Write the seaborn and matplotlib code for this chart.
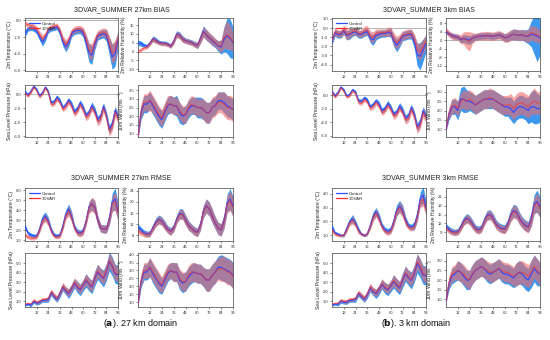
import matplotlib
matplotlib.use("Agg")
import numpy as np
import pandas as pd
import matplotlib.pyplot as plt
from matplotlib.lines import Line2D
import seaborn as sns

HOURS = [0, 3, 6, 9, 12, 15, 18, 21, 24, 27, 30, 33, 36, 39, 42, 45, 48, 51, 54, 57, 60, 63, 66, 69, 72, 75, 78, 81, 84, 87, 90, 93, 96]
XTICKS = [12, 24, 36, 48, 60, 72, 84, 96]
SERIES = ["Control", "3DVAR"]
TITLES = ["3DVAR_SUMMER 27km BIAS", "3DVAR_SUMMER 27km RMSE", "3DVAR_SUMMER 3km BIAS", "3DVAR_SUMMER 3km RMSE"]
CAPTIONS = [r"($\mathbf{a}$). 27 km domain", r"($\mathbf{b}$). 3 km domain"]
YLABELS = ["2m Temperature (\u00b0C)", "2m Relative Humidity (%)", "Sea Level Pressure (hPa)", "10m Wind (ms$^{-1}$)"]

# ---------- 27 km BIAS ----------
a_bias_t2_ctl = [-1.6,-1.0,-0.9,-1.0,-1.3,-2.0,-2.6,-2.1,-1.2,-1.0,-0.9,-0.8,-1.4,-2.6,-3.2,-2.7,-1.6,-1.3,-1.2,-1.2,-1.5,-2.6,-3.9,-4.2,-2.9,-1.9,-1.7,-1.6,-1.8,-3.1,-4.4,-4.0,-2.4]
a_bias_t2_var = [-0.4,-0.5,-0.6,-0.7,-1.0,-1.7,-2.2,-1.8,-1.0,-0.8,-0.7,-0.6,-1.2,-2.3,-2.9,-2.4,-1.4,-1.1,-1.0,-1.0,-1.3,-2.3,-3.6,-3.8,-2.6,-1.7,-1.5,-1.4,-1.6,-2.8,-4.0,-3.6,-2.1]
a_bias_t2_ctl_sd = [0.4,0.3,0.3,0.3,0.3,0.4,0.5,0.4,0.3,0.3,0.3,0.3,0.4,0.5,0.6,0.5,0.4,0.4,0.4,0.4,0.5,0.8,1.1,1.1,0.7,0.5,0.5,0.5,0.7,1.1,1.5,1.5,1.0]
a_bias_t2_var_sd = [0.3,0.3,0.3,0.3,0.3,0.4,0.5,0.4,0.3,0.3,0.3,0.3,0.4,0.5,0.6,0.5,0.4,0.4,0.4,0.4,0.5,0.7,0.9,1.0,0.7,0.5,0.5,0.5,0.6,0.9,1.2,1.2,0.9]

a_bias_rh_ctl = [5.0,4.5,3.5,3.0,4.8,7.3,6.5,5.3,4.8,4.8,4.2,3.2,5.8,10.0,9.3,7.2,6.2,5.7,5.2,4.2,3.5,7.2,11.5,9.5,7.8,6.2,4.7,3.2,2.5,7.0,9.0,7.5,5.0]
a_bias_rh_var = [0.0,1.0,2.0,2.5,4.5,7.0,6.0,5.0,4.5,4.5,4.0,3.0,5.5,9.5,9.0,7.0,6.0,5.5,5.0,4.0,3.5,7.0,11.0,9.5,8.0,6.5,5.0,3.5,3.0,8.0,9.5,8.0,5.5]
a_bias_rh_ctl_sd = [1.5,1.5,1.2,1.0,1.2,1.5,1.5,1.2,1.2,1.2,1.2,1.2,1.5,1.8,1.8,1.8,1.5,1.5,1.5,1.5,1.8,2.5,3.0,3.0,2.8,2.8,2.5,3.0,4.0,7.0,10.0,11.0,9.0]
a_bias_rh_var_sd = [1.0,1.0,1.0,1.0,1.2,1.5,1.5,1.2,1.2,1.2,1.2,1.2,1.5,1.8,1.8,1.8,1.5,1.5,1.5,1.5,1.8,2.5,3.0,3.0,2.8,2.8,2.5,2.5,3.5,6.0,8.0,7.0,5.0]

a_bias_slp_ctl = [0.4,-0.1,0.4,1.1,0.7,-0.2,0.2,1.0,0.4,-1.2,-1.1,-0.4,-0.9,-1.9,-1.5,-0.8,-1.4,-2.5,-2.1,-1.2,-1.9,-3.0,-2.6,-1.6,-2.3,-3.6,-3.2,-1.7,-3.0,-5.0,-4.3,-2.3,-3.2]
a_bias_slp_var = [0.2,-0.3,0.2,1.0,0.5,-0.4,0.0,0.9,0.2,-1.5,-1.4,-0.7,-1.2,-2.2,-1.8,-1.1,-1.7,-2.8,-2.4,-1.5,-2.2,-3.3,-2.9,-1.9,-2.6,-3.9,-3.5,-2.0,-3.3,-5.3,-4.6,-2.6,-3.5]
a_bias_slp_ctl_sd = [0.2,0.2,0.2,0.2,0.2,0.2,0.2,0.2,0.2,0.3,0.3,0.3,0.3,0.3,0.3,0.3,0.4,0.4,0.4,0.4,0.4,0.4,0.4,0.5,0.5,0.5,0.5,0.5,0.5,0.6,0.6,0.6,0.6]
a_bias_slp_var_sd = [0.2,0.2,0.2,0.2,0.2,0.2,0.2,0.2,0.3,0.3,0.3,0.3,0.3,0.3,0.4,0.4,0.4,0.4,0.4,0.4,0.5,0.5,0.5,0.5,0.5,0.6,0.6,0.6,0.6,0.7,0.7,0.7,0.7]

a_bias_wind_ctl = [0.8,2.2,2.7,2.7,2.9,2.6,2.3,2.0,1.8,2.2,2.6,2.7,2.6,2.6,2.2,2.0,2.1,2.4,2.6,2.6,2.5,2.5,2.4,2.2,2.2,2.5,2.6,2.9,2.9,2.8,2.6,2.5,2.4]
a_bias_wind_var = [0.8,2.3,2.8,2.8,2.9,2.7,2.4,2.1,1.9,2.3,2.7,2.7,2.6,2.6,2.3,2.1,2.1,2.5,2.7,2.6,2.5,2.5,2.4,2.2,2.2,2.5,2.6,2.8,2.8,2.7,2.5,2.5,2.4]
a_bias_wind_ctl_sd = [0.1,0.4,0.5,0.5,0.5,0.5,0.5,0.5,0.5,0.5,0.5,0.5,0.5,0.6,0.6,0.5,0.5,0.5,0.5,0.5,0.6,0.6,0.6,0.6,0.6,0.5,0.5,0.5,0.5,0.6,0.6,0.6,0.6]
a_bias_wind_var_sd = [0.1,0.4,0.5,0.5,0.6,0.5,0.5,0.5,0.5,0.5,0.5,0.5,0.5,0.5,0.5,0.5,0.5,0.5,0.5,0.5,0.5,0.5,0.6,0.6,0.6,0.6,0.6,0.6,0.6,0.7,0.7,0.7,0.7]

# ---------- 27 km RMSE ----------
a_rmse_t2_ctl = [2.4,1.7,1.5,1.4,1.4,2.1,3.1,3.4,2.9,2.0,1.5,1.4,1.5,2.4,3.6,4.1,3.4,2.3,1.8,1.7,1.9,2.9,4.3,4.6,4.3,3.0,2.2,2.1,2.1,3.1,4.8,5.1,3.9]
a_rmse_t2_var = [1.5,1.3,1.2,1.2,1.3,2.0,2.9,3.2,2.8,1.9,1.4,1.3,1.4,2.2,3.4,3.9,3.3,2.2,1.7,1.6,1.8,2.8,4.2,4.6,4.3,3.0,2.2,2.1,2.1,3.0,4.6,4.9,3.7]
a_rmse_t2_ctl_sd = [0.2,0.2,0.2,0.2,0.2,0.3,0.4,0.4,0.4,0.3,0.2,0.2,0.2,0.3,0.4,0.5,0.5,0.3,0.3,0.3,0.3,0.4,0.5,0.6,0.6,0.5,0.4,0.4,0.4,0.6,0.9,1.1,0.9]
a_rmse_t2_var_sd = [0.2,0.2,0.2,0.2,0.2,0.3,0.4,0.4,0.4,0.3,0.2,0.2,0.2,0.3,0.4,0.5,0.5,0.3,0.3,0.3,0.3,0.4,0.6,0.7,0.7,0.5,0.4,0.4,0.4,0.5,0.8,0.9,0.8]

a_rmse_rh_ctl = [11.0,10.0,9.0,8.5,8.7,10.8,12.8,13.8,13.2,11.7,10.2,9.5,10.7,13.8,15.8,15.7,13.6,11.6,10.6,9.6,9.1,11.6,16.6,18.6,17.5,15.0,12.5,10.5,10.0,13.2,19.5,21.0,18.5]
a_rmse_rh_var = [9.5,9.0,8.5,8.3,8.5,10.5,12.5,13.5,13.0,11.5,10.0,9.3,10.5,13.5,15.5,15.5,13.5,11.5,10.5,9.5,9.0,11.5,16.5,18.5,17.5,15.0,12.5,10.5,10.0,13.0,19.0,20.5,18.0]
a_rmse_rh_ctl_sd = [1.2,1.0,1.0,1.0,1.0,1.2,1.5,1.5,1.5,1.5,1.3,1.3,1.3,1.5,1.8,1.8,1.8,1.7,1.5,1.5,1.5,1.8,2.2,2.5,2.5,2.5,2.2,2.2,2.2,2.5,3.2,3.8,3.5]
a_rmse_rh_var_sd = [1.0,1.0,1.0,1.0,1.0,1.2,1.5,1.5,1.5,1.5,1.3,1.3,1.3,1.5,1.8,1.8,1.8,1.7,1.5,1.5,1.5,1.8,2.2,2.5,2.5,2.5,2.2,2.2,2.2,2.5,3.0,3.5,3.5]

a_rmse_slp_ctl = [0.6,0.7,0.6,1.0,0.8,0.9,1.1,1.1,1.2,1.9,1.5,1.2,1.8,2.5,2.1,1.8,2.3,2.9,2.5,2.2,2.7,3.2,2.8,2.5,3.4,4.1,3.7,3.4,4.1,5.2,4.7,3.9,3.8]
a_rmse_slp_var = [0.7,0.8,0.7,1.1,0.9,1.0,1.2,1.2,1.3,2.0,1.6,1.3,1.9,2.6,2.2,1.9,2.4,3.0,2.6,2.3,2.8,3.3,2.9,2.6,3.5,4.2,3.8,3.5,4.2,5.3,4.8,4.0,3.9]
a_rmse_slp_ctl_sd = [0.1,0.1,0.2,0.2,0.2,0.2,0.2,0.2,0.3,0.3,0.3,0.3,0.4,0.4,0.4,0.5,0.5,0.5,0.6,0.6,0.6,0.7,0.7,0.7,0.8,0.8,0.8,0.9,0.9,1.0,1.0,1.0,1.0]
a_rmse_slp_var_sd = [0.1,0.1,0.1,0.2,0.2,0.2,0.2,0.2,0.2,0.3,0.3,0.3,0.3,0.4,0.4,0.4,0.4,0.5,0.5,0.5,0.5,0.6,0.6,0.6,0.6,0.7,0.7,0.7,0.7,0.8,0.8,0.8,0.8]

a_rmse_wind_ctl = [0.9,2.3,2.9,2.9,3.2,2.8,2.5,2.2,2.0,2.4,2.8,3.0,2.9,2.9,2.4,2.2,2.3,2.6,2.8,2.9,2.8,2.8,2.6,2.4,2.4,2.7,2.9,3.2,3.2,3.1,3.0,2.9,2.7]
a_rmse_wind_var = [0.9,2.4,3.0,3.0,3.2,2.9,2.6,2.3,2.1,2.5,2.9,3.0,2.9,2.9,2.5,2.3,2.3,2.7,2.9,2.9,2.8,2.8,2.6,2.4,2.4,2.7,2.9,3.1,3.1,3.1,2.9,2.9,2.6]
a_rmse_wind_ctl_sd = [0.1,0.4,0.5,0.5,0.6,0.6,0.6,0.6,0.5,0.5,0.5,0.5,0.6,0.6,0.6,0.6,0.6,0.6,0.6,0.6,0.6,0.6,0.6,0.7,0.7,0.7,0.7,0.7,0.8,0.8,0.8,0.8,0.8]
a_rmse_wind_var_sd = [0.1,0.4,0.5,0.5,0.6,0.6,0.6,0.6,0.5,0.5,0.5,0.5,0.6,0.6,0.6,0.6,0.6,0.6,0.6,0.6,0.6,0.6,0.6,0.7,0.7,0.7,0.7,0.7,0.8,0.8,0.8,0.8,0.8]

# ---------- 3 km BIAS ----------
b_bias_t2_ctl = [-1.5,-0.5,-0.7,-0.7,-0.3,-0.8,-0.7,-0.5,-0.4,-0.7,-0.7,-0.5,-0.4,-1.1,-1.3,-0.8,-0.7,-0.6,-0.6,-0.5,-0.5,-1.4,-1.9,-1.5,-0.9,-0.8,-0.7,-0.7,-1.5,-2.9,-3.1,-2.4,-1.7]
b_bias_t2_var = [-1.3,-0.4,-0.6,-0.6,-0.2,-0.7,-0.6,-0.4,-0.3,-0.6,-0.6,-0.3,-0.2,-0.9,-1.0,-0.6,-0.5,-0.5,-0.5,-0.4,-0.4,-1.2,-1.6,-1.3,-0.8,-0.7,-0.6,-0.6,-1.2,-2.4,-2.6,-2.0,-1.4]
b_bias_t2_ctl_sd = [0.3,0.4,0.4,0.4,0.4,0.5,0.5,0.4,0.4,0.4,0.4,0.4,0.4,0.5,0.6,0.5,0.4,0.4,0.4,0.4,0.5,0.6,0.7,0.6,0.5,0.5,0.5,0.5,0.7,1.2,1.5,1.2,0.9]
b_bias_t2_var_sd = [0.3,0.4,0.4,0.4,0.5,0.6,0.5,0.4,0.4,0.4,0.4,0.5,0.5,0.6,0.6,0.5,0.4,0.4,0.4,0.5,0.5,0.7,0.7,0.6,0.5,0.5,0.5,0.5,0.6,0.8,0.9,0.8,0.7]

b_bias_rh_ctl = [4.0,3.0,2.2,1.8,1.5,0.3,0.8,0.5,0.0,1.0,1.5,1.8,2.0,2.0,2.2,2.0,1.8,2.2,2.5,2.0,1.2,1.5,2.3,2.8,2.5,2.3,2.5,2.0,1.8,3.0,2.5,2.0,1.0]
b_bias_rh_var = [4.5,3.0,2.0,1.5,1.5,0.5,1.0,0.0,-0.5,1.0,1.5,1.8,2.0,2.0,2.2,2.0,1.8,2.2,2.5,2.0,1.0,1.5,2.3,2.8,2.5,2.3,2.5,2.0,2.0,3.5,3.0,2.5,1.5]
b_bias_rh_ctl_sd = [1.0,1.0,1.2,1.2,1.2,1.5,1.8,2.0,2.0,1.8,1.5,1.5,1.5,1.5,1.5,1.5,1.5,1.5,1.5,1.5,1.8,2.0,2.2,2.5,2.5,2.5,2.5,2.8,3.5,6.0,9.0,12.0,8.0]
b_bias_rh_var_sd = [1.5,1.5,1.5,1.5,1.5,2.0,3.0,4.0,4.5,2.5,1.8,1.8,2.0,2.0,2.0,2.0,2.0,2.0,2.0,2.0,2.0,2.5,2.5,2.5,2.5,2.5,2.5,2.5,3.0,3.5,3.5,3.5,3.0]

b_bias_slp_ctl = [0.6,-0.1,0.4,1.2,0.8,-0.1,0.1,0.8,0.5,-0.8,-0.9,-0.4,-0.7,-1.7,-1.4,-0.8,-1.3,-2.3,-2.0,-1.2,-1.8,-2.8,-2.5,-1.6,-2.2,-3.4,-3.1,-1.8,-2.8,-4.7,-4.1,-2.3,-3.1]
b_bias_slp_var = [0.5,-0.3,0.2,1.1,0.6,-0.3,-0.1,0.6,0.3,-1.1,-1.2,-0.7,-1.0,-2.0,-1.7,-1.1,-1.6,-2.6,-2.3,-1.5,-2.1,-3.1,-2.8,-1.9,-2.5,-3.7,-3.4,-2.1,-3.1,-5.0,-4.4,-2.6,-3.4]
b_bias_slp_ctl_sd = [0.2,0.2,0.2,0.2,0.2,0.2,0.2,0.2,0.2,0.3,0.3,0.3,0.3,0.3,0.3,0.3,0.4,0.4,0.4,0.4,0.4,0.4,0.4,0.5,0.5,0.5,0.5,0.5,0.5,0.6,0.6,0.6,0.6]
b_bias_slp_var_sd = [0.2,0.2,0.2,0.2,0.2,0.2,0.2,0.2,0.3,0.3,0.3,0.3,0.3,0.3,0.4,0.4,0.4,0.4,0.4,0.4,0.5,0.5,0.5,0.5,0.5,0.6,0.6,0.6,0.6,0.7,0.7,0.7,0.7]

b_bias_wind_ctl = [1.0,1.8,2.2,2.2,2.0,2.6,2.6,2.5,2.5,2.4,2.3,2.4,2.5,2.6,2.6,2.6,2.6,2.5,2.4,2.3,2.2,2.2,2.1,1.9,2.1,2.2,2.2,2.1,2.0,2.2,2.2,2.1,2.1]
b_bias_wind_var = [1.0,1.9,2.2,2.3,2.1,2.5,2.6,2.5,2.6,2.5,2.3,2.4,2.5,2.6,2.6,2.7,2.6,2.5,2.4,2.3,2.3,2.3,2.3,2.1,2.3,2.4,2.4,2.3,2.2,2.4,2.5,2.4,2.4]
b_bias_wind_ctl_sd = [0.1,0.3,0.4,0.4,0.5,0.6,0.7,0.6,0.5,0.5,0.5,0.5,0.5,0.5,0.5,0.5,0.5,0.5,0.5,0.5,0.5,0.5,0.6,0.6,0.6,0.6,0.6,0.6,0.7,0.8,0.9,0.8,0.7]
b_bias_wind_var_sd = [0.1,0.3,0.4,0.4,0.4,0.4,0.5,0.5,0.5,0.5,0.5,0.5,0.5,0.5,0.5,0.5,0.5,0.5,0.5,0.5,0.5,0.5,0.6,0.6,0.6,0.6,0.6,0.6,0.6,0.6,0.7,0.6,0.6]

# ---------- 3 km RMSE ----------
b_rmse_t2_ctl = [1.6,1.2,1.1,1.0,1.0,1.5,2.0,2.2,1.9,1.4,1.1,1.0,1.1,1.7,2.4,2.7,2.3,1.7,1.4,1.3,1.4,2.0,2.8,3.1,2.8,2.1,1.7,1.6,1.7,2.4,3.6,3.9,3.0]
b_rmse_t2_var = [1.4,1.1,1.0,1.0,1.0,1.4,1.9,2.1,1.8,1.3,1.1,1.0,1.1,1.6,2.3,2.6,2.2,1.6,1.3,1.2,1.3,1.9,2.7,3.0,2.7,2.0,1.6,1.5,1.6,2.3,3.4,3.6,2.8]
b_rmse_t2_ctl_sd = [0.2,0.1,0.1,0.1,0.1,0.2,0.2,0.3,0.2,0.2,0.1,0.1,0.1,0.2,0.3,0.3,0.3,0.2,0.2,0.2,0.2,0.3,0.4,0.4,0.4,0.3,0.2,0.2,0.3,0.4,0.5,0.6,0.5]
b_rmse_t2_var_sd = [0.2,0.1,0.1,0.1,0.1,0.2,0.2,0.3,0.2,0.2,0.1,0.1,0.1,0.2,0.3,0.3,0.3,0.2,0.2,0.2,0.2,0.3,0.3,0.4,0.4,0.3,0.2,0.2,0.2,0.3,0.4,0.5,0.4]

b_rmse_rh_ctl = [11.0,10.0,9.3,9.0,9.2,10.8,12.8,13.8,13.2,11.8,10.3,9.8,10.3,12.8,14.8,15.0,13.8,11.8,10.8,10.3,10.1,11.8,14.8,16.3,15.8,13.8,12.3,11.3,10.8,13.5,18.5,19.5,17.5]
b_rmse_rh_var = [10.5,9.5,9.0,8.8,9.0,10.5,12.5,13.5,13.0,11.5,10.0,9.5,10.0,12.5,14.5,14.8,13.5,11.5,10.5,10.0,9.8,11.5,14.5,16.0,15.5,13.5,12.0,11.0,10.5,13.0,18.0,19.0,17.0]
b_rmse_rh_ctl_sd = [1.0,1.0,1.0,1.0,1.0,1.2,1.4,1.5,1.5,1.4,1.2,1.2,1.2,1.4,1.6,1.6,1.6,1.5,1.4,1.4,1.4,1.6,2.0,2.2,2.2,2.0,1.8,1.8,1.8,2.5,3.2,3.8,3.5]
b_rmse_rh_var_sd = [1.0,1.0,1.0,1.0,1.0,1.2,1.4,1.5,1.5,1.4,1.2,1.2,1.2,1.4,1.6,1.6,1.6,1.5,1.4,1.4,1.4,1.6,2.0,2.2,2.2,2.0,1.8,1.8,1.8,2.2,2.8,3.2,3.0]

b_rmse_slp_ctl = [0.6,0.7,0.7,1.0,0.9,0.9,1.1,1.1,1.2,1.8,1.5,1.2,1.7,2.4,2.0,1.8,2.2,2.8,2.4,2.2,2.6,3.1,2.7,2.4,3.2,3.9,3.5,3.2,3.9,5.0,4.5,3.8,3.7]
b_rmse_slp_var = [0.7,0.8,0.8,1.1,1.0,1.0,1.2,1.2,1.3,1.9,1.6,1.3,1.8,2.5,2.1,1.9,2.3,2.9,2.5,2.3,2.7,3.2,2.8,2.5,3.3,4.0,3.6,3.3,4.0,5.2,4.7,3.9,3.8]
b_rmse_slp_ctl_sd = [0.1,0.1,0.2,0.2,0.2,0.2,0.2,0.2,0.3,0.3,0.3,0.3,0.4,0.4,0.4,0.5,0.5,0.5,0.6,0.6,0.6,0.7,0.7,0.7,0.8,0.8,0.8,0.9,0.9,1.0,1.0,1.0,1.0]
b_rmse_slp_var_sd = [0.1,0.1,0.1,0.2,0.2,0.2,0.2,0.2,0.2,0.3,0.3,0.3,0.3,0.4,0.4,0.4,0.4,0.5,0.5,0.5,0.5,0.6,0.6,0.6,0.6,0.7,0.7,0.7,0.7,0.8,0.8,0.8,0.8]

b_rmse_wind_ctl = [0.9,1.8,2.2,2.3,2.5,2.4,2.2,2.0,2.0,2.3,2.5,2.6,2.7,2.6,2.4,2.3,2.4,2.5,2.6,2.4,2.3,2.3,2.2,2.1,2.3,2.4,2.3,2.1,2.0,2.3,2.6,2.4,2.3]
b_rmse_wind_var = [0.9,1.9,2.3,2.4,2.5,2.4,2.3,2.1,2.0,2.3,2.5,2.6,2.7,2.6,2.5,2.4,2.4,2.5,2.6,2.5,2.4,2.4,2.3,2.2,2.3,2.4,2.4,2.3,2.2,2.4,2.7,2.5,2.3]
b_rmse_wind_ctl_sd = [0.1,0.3,0.4,0.4,0.5,0.5,0.5,0.5,0.5,0.5,0.5,0.5,0.5,0.5,0.5,0.5,0.5,0.5,0.5,0.5,0.5,0.5,0.5,0.5,0.6,0.6,0.6,0.6,0.6,0.7,0.7,0.7,0.6]
b_rmse_wind_var_sd = [0.1,0.3,0.4,0.4,0.5,0.5,0.5,0.5,0.5,0.5,0.5,0.5,0.5,0.5,0.5,0.5,0.5,0.5,0.5,0.5,0.5,0.5,0.5,0.5,0.6,0.6,0.6,0.6,0.6,0.6,0.6,0.6,0.6]

# ---------- styling ----------
BLUE_LINE = "#2f4bff"
RED_LINE = "#ff2a2a"
BLUE_BAND = "#3d98ee"
RED_BAND = "#f06a6a"

sns.set_theme(style="ticks")
plt.rcParams["font.family"] = ["Liberation Sans", "DejaVu Sans"]
plt.rcParams["axes.linewidth"] = 0.5

W, H = 550, 340
fig = plt.figure(figsize=(W / 100, H / 100), dpi=100)
fig.patch.set_facecolor("white")


def px_axes(x0, y0, x1, y1):
    return fig.add_axes([x0 / W, 1 - y1 / H, (x1 - x0) / W, (y1 - y0) / H])


def panel(ax, ctl, var, ctl_sd, var_sd, ylabel, ylim, yticks, fmt, hline=False, legend=False):
    ctl = np.array(ctl); var = np.array(var)
    ctl_sd = np.array(ctl_sd); var_sd = np.array(var_sd)
    ax.fill_between(HOURS, ctl - ctl_sd, ctl + ctl_sd, color=BLUE_BAND, lw=0, zorder=1)
    ax.fill_between(HOURS, var - var_sd, var + var_sd, color=RED_BAND, alpha=0.6, lw=0, zorder=2)
    if hline:
        ax.axhline(0, color="#999999", lw=0.5, zorder=0.5)
    df = pd.DataFrame({"hour": HOURS * 2,
                       "value": list(ctl) + list(var),
                       "run": [SERIES[0]] * len(HOURS) + [SERIES[1]] * len(HOURS)})
    sns.lineplot(data=df[df.run == SERIES[0]], x="hour", y="value", color=BLUE_LINE,
                 lw=0.85, ax=ax, legend=False, zorder=3)
    sns.lineplot(data=df[df.run == SERIES[1]], x="hour", y="value", color=RED_LINE,
                 lw=0.85, alpha=0.6, ax=ax, legend=False, zorder=4)
    ax.set_xlim(0, 96)
    ax.set_ylim(*ylim)
    ax.set_xticks(XTICKS)
    ax.set_xticklabels([str(t) for t in XTICKS])
    ax.set_yticks(yticks)
    ax.set_yticklabels([fmt.format(v) for v in yticks])
    ax.set_xlabel("")
    ax.set_ylabel(ylabel, fontsize=3.6, labelpad=1.5)
    ax.tick_params(labelsize=3, length=1.5, width=0.4, pad=1.2, colors="#333333")
    for s in ax.spines.values():
        s.set_linewidth(0.5)
        s.set_color("#444444")
    if legend:
        h = [Line2D([], [], color=BLUE_LINE, lw=0.9), Line2D([], [], color=RED_LINE, lw=0.9)]
        ax.legend(h, SERIES, loc="upper left", fontsize=3.2, frameon=False,
                  handlelength=2.5, borderaxespad=0.4, labelspacing=0.2, handletextpad=0.4)


COLS = {"a": [(25, 118), (138, 233)], "b": [(332, 426), (446, 540)]}
ROWS = {"bias": [(18, 71), (85, 137)], "rmse": [(188, 241), (253, 307)]}

specs = [
    ("a", "bias", [
        (a_bias_t2_ctl, a_bias_t2_var, a_bias_t2_ctl_sd, a_bias_t2_var_sd, (-6.1, 0.3), [-6, -4, -2, 0], "{:.1f}", True),
        (a_bias_rh_ctl, a_bias_rh_var, a_bias_rh_ctl_sd, a_bias_rh_var_sd, (-11, 19), [-10, -5, 0, 5, 10, 15], "{:.0f}", True),
        (a_bias_slp_ctl, a_bias_slp_var, a_bias_slp_ctl_sd, a_bias_slp_var_sd, (-6.1, 1.3), [-6, -4, -2, 0], "{:.1f}", True),
        (a_bias_wind_ctl, a_bias_wind_var, a_bias_wind_ctl_sd, a_bias_wind_var_sd, (0.8, 3.8), [1.0, 1.5, 2.0, 2.5, 3.0, 3.5], "{:.1f}", False)]),
    ("a", "rmse", [
        (a_rmse_t2_ctl, a_rmse_t2_var, a_rmse_t2_ctl_sd, a_rmse_t2_var_sd, (0.9, 6.2), [1, 2, 3, 4, 5, 6], "{:.1f}", False),
        (a_rmse_rh_ctl, a_rmse_rh_var, a_rmse_rh_ctl_sd, a_rmse_rh_var_sd, (6, 25), [8, 12, 16, 20, 24], "{:.0f}", False),
        (a_rmse_slp_ctl, a_rmse_slp_var, a_rmse_slp_ctl_sd, a_rmse_slp_var_sd, (0.4, 6.1), [1, 2, 3, 4, 5], "{:.1f}", False),
        (a_rmse_wind_ctl, a_rmse_wind_var, a_rmse_wind_ctl_sd, a_rmse_wind_var_sd, (0.7, 4.1), [1.0, 1.5, 2.0, 2.5, 3.0, 3.5, 4.0], "{:.1f}", False)]),
    ("b", "bias", [
        (b_bias_t2_ctl, b_bias_t2_var, b_bias_t2_ctl_sd, b_bias_t2_var_sd, (-4.7, 1.1), [-4, -3, -2, -1, 0, 1], "{:.1f}", True),
        (b_bias_rh_ctl, b_bias_rh_var, b_bias_rh_ctl_sd, b_bias_rh_var_sd, (-14.4, 10.4), [-12, -8, -4, 0, 4, 8], "{:.0f}", True),
        (b_bias_slp_ctl, b_bias_slp_var, b_bias_slp_ctl_sd, b_bias_slp_var_sd, (-6.2, 1.5), [-6, -4, -2, 0], "{:.1f}", True),
        (b_bias_wind_ctl, b_bias_wind_var, b_bias_wind_ctl_sd, b_bias_wind_var_sd, (0.6, 3.35), [1.0, 1.5, 2.0, 2.5, 3.0], "{:.1f}", False)]),
    ("b", "rmse", [
        (b_rmse_t2_ctl, b_rmse_t2_var, b_rmse_t2_ctl_sd, b_rmse_t2_var_sd, (0.6, 4.4), [1, 2, 3, 4], "{:.1f}", False),
        (b_rmse_rh_ctl, b_rmse_rh_var, b_rmse_rh_ctl_sd, b_rmse_rh_var_sd, (6, 24), [9, 12, 15, 18, 21], "{:.0f}", False),
        (b_rmse_slp_ctl, b_rmse_slp_var, b_rmse_slp_ctl_sd, b_rmse_slp_var_sd, (0.4, 6.1), [1, 2, 3, 4, 5], "{:.1f}", False),
        (b_rmse_wind_ctl, b_rmse_wind_var, b_rmse_wind_ctl_sd, b_rmse_wind_var_sd, (0.6, 3.4), [1.0, 1.5, 2.0, 2.5, 3.0], "{:.1f}", False)]),
]

for (dom, kind, plist) in specs:
    for i, p in enumerate(plist):
        r, c = divmod(i, 2)
        (x0, x1), (y0, y1) = COLS[dom][c], ROWS[kind][r]
        ax = px_axes(x0, y0, x1, y1)
        ctl, var, csd, vsd, ylim, yt, fmt, hl = p
        panel(ax, ctl, var, csd, vsd, YLABELS[i], ylim, yt, fmt, hline=hl, legend=(i == 0))

# titles
title_pos = [(122, 10), (121, 178), (429, 10), (430, 178)]
for t, (x, y) in zip(TITLES, title_pos):
    fig.text(x / W, 1 - y / H, t, ha="center", va="center", fontsize=5.0, color="#222222")

fig.text(141 / W, 1 - 323 / H, CAPTIONS[0], ha="center", va="center", fontsize=6.5, color="#111111")
fig.text(416 / W, 1 - 323 / H, CAPTIONS[1], ha="center", va="center", fontsize=6.5, color="#111111")

fig.savefig("out.png", dpi=100, facecolor="white")
